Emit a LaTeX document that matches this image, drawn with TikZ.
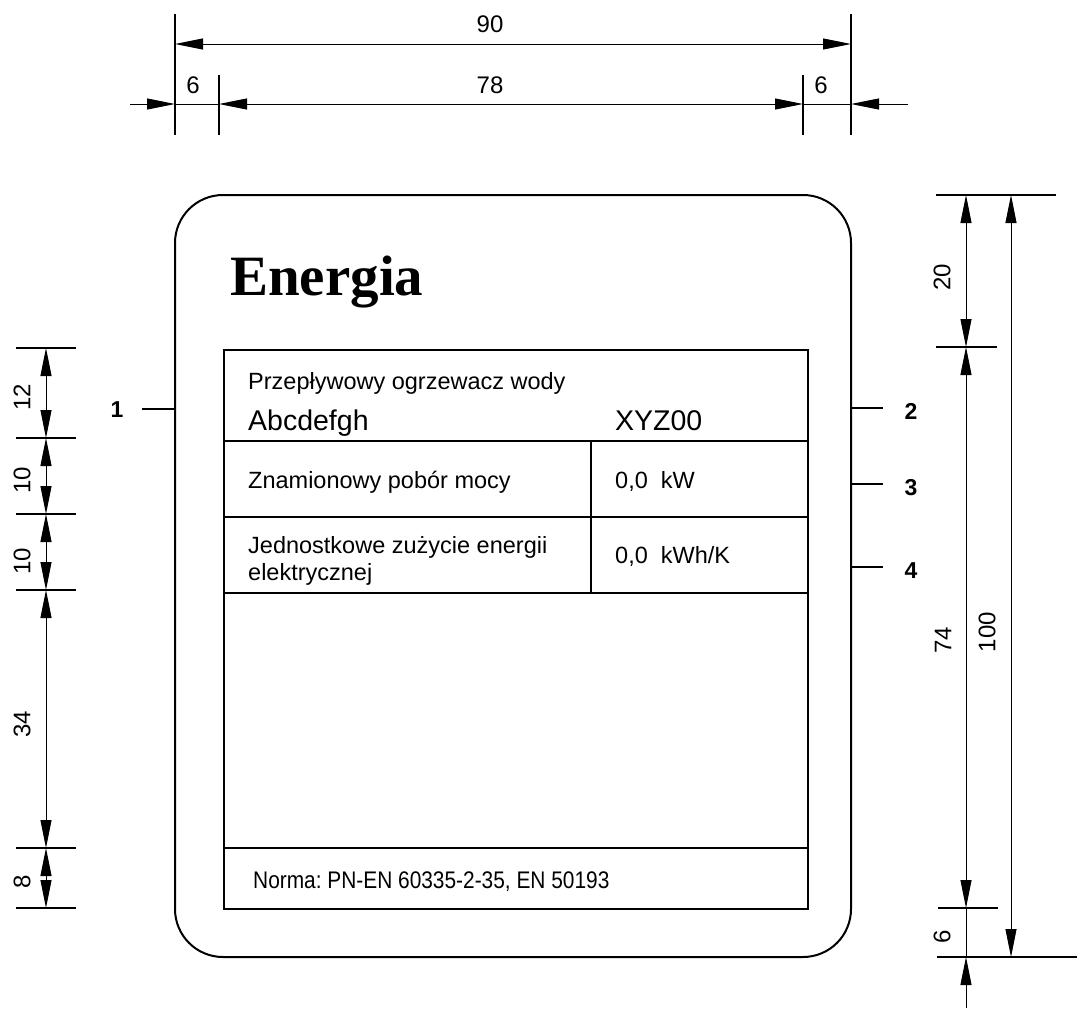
\documentclass[tikz,border=0pt]{standalone}
\usepackage{fontspec}
\setmainfont{Liberation Sans}
\newfontfamily\serifb{Liberation Serif}
\usetikzlibrary{arrows.meta}
\begin{document}
\frenchspacing
\begin{tikzpicture}[x=1pt,y=-1pt,
  dim/.style={line width=1pt},
  ext/.style={line width=1.1pt},
  tab/.style={line width=1.4pt},
  lead/.style={line width=2pt},
  tip/.tip={Triangle[length=28pt,width=11pt]},
  dimtxt/.style={font=\fontsize{24}{26}\selectfont, inner sep=0pt},
  rdimtxt/.style={dimtxt, rotate=90},
  num/.style={font=\bfseries\fontsize{23}{24}\selectfont, inner sep=0pt},
  cell/.style={anchor=base west, inner sep=0pt, font=\fontsize{23.5}{22}\selectfont},
  big/.style={anchor=base west, inner sep=0pt, font=\fontsize{28.5}{30}\selectfont}
]
\useasboundingbox (0,0) rectangle (1077,1010);

% plate
\node[draw, line width=2pt, rounded corners=48pt, minimum width=676pt, minimum height=762pt, inner sep=0pt] (plate) at (513,576) {};

\node[anchor=base west, inner sep=0pt, font=\serifb\bfseries\fontsize{57}{60}\selectfont] (title) at (230,295) {Energia};

% table
\coordinate (tTL) at (224,350);
\coordinate (tBR) at (808,909);
\draw[tab] (tTL) rectangle (tBR);
\coordinate (r1l) at (224,441); \coordinate (r1r) at (808,441);
\coordinate (r2l) at (224,517); \coordinate (r2r) at (808,517);
\coordinate (r3l) at (224,593); \coordinate (r3r) at (808,593);
\coordinate (r4l) at (224,848); \coordinate (r4r) at (808,848);
\coordinate (cTop) at (591,441); \coordinate (cBot) at (591,593);
\draw[tab] (r1l) -- (r1r);
\draw[tab] (r2l) -- (r2r);
\draw[tab] (r3l) -- (r3r);
\draw[tab] (r4l) -- (r4r);
\draw[tab] (cTop) -- (cBot);

\node[cell] (t1) at (248,389) {Przepływowy ogrzewacz wody};
\node[big] (t2) at (248,430) {Abcdefgh};
\node[big] (t3) at (615,430) {XYZ00};
\node[cell] (t4) at (248,488) {Znamionowy pobór mocy};
\node[cell] (t5) at (615,488) {0,0\ \ kW};
\node[cell] (t6) at (248,553) {Jednostkowe zużycie energii};
\node[cell] (t7) at (248,580) {elektrycznej};
\node[cell] (t8) at (615,563) {0,0\ \ kWh/K};
\node[cell, font=\fontsize{24}{26}\selectfont, xscale=0.87] (t9) at (253,888) {Norma: PN-EN 60335-2-35, EN 50193};

% leaders
\node[num] (n1) at (117,410) {1};
\node[num] (n2) at (911,411) {2};
\node[num] (n3) at (911,488) {3};
\node[num] (n4) at (911,571) {4};
\coordinate (l1a) at (142,409); \coordinate (l1b) at (175,409);
\coordinate (l2a) at (851,408); \coordinate (l2b) at (883,408);
\coordinate (l3a) at (851,484); \coordinate (l3b) at (883,484);
\coordinate (l4a) at (851,567); \coordinate (l4b) at (883,567);
\draw[lead] (l1a) -- (l1b);
\draw[lead] (l2a) -- (l2b);
\draw[lead] (l3a) -- (l3b);
\draw[lead] (l4a) -- (l4b);

% top dimensions
\coordinate (e1a) at (175,14);  \coordinate (e1b) at (175,135);
\coordinate (e2a) at (851,14);  \coordinate (e2b) at (851,135);
\coordinate (e3a) at (219,75);  \coordinate (e3b) at (219,135);
\coordinate (e4a) at (803,75);  \coordinate (e4b) at (803,135);
\draw[ext] (e1a) -- (e1b);
\draw[ext] (e2a) -- (e2b);
\draw[ext] (e3a) -- (e3b);
\draw[ext] (e4a) -- (e4b);
\coordinate (d90a) at (175,44); \coordinate (d90b) at (851,44);
\draw[dim, tip-tip] (d90a) -- (d90b);
\coordinate (d78a) at (219,104); \coordinate (d78b) at (803,104);
\draw[dim, tip-tip] (d78a) -- (d78b);
\coordinate (d6La) at (130,104); \coordinate (d6Lb) at (175,104);
\draw[dim, -tip] (d6La) -- (d6Lb);
\draw[dim] (d6Lb) -- (d78a);
\coordinate (d6Ra) at (908,104); \coordinate (d6Rb) at (851,104);
\draw[dim, -tip] (d6Ra) -- (d6Rb);
\draw[dim] (d78b) -- (d6Rb);
\node[dimtxt] (x90) at (490,24) {90};
\node[dimtxt] (x6a) at (193,85) {6};
\node[dimtxt] (x78) at (490,85) {78};
\node[dimtxt] (x6b) at (821,85) {6};

% left dimensions
\foreach \y/\n in {348/a,438/b,514/c,590/d,848/e,908/f}{
  \coordinate (L\n1) at (16,\y); \coordinate (L\n2) at (76,\y);
  \coordinate (L\n) at (46,\y);
  \draw[ext] (L\n1) -- (L\n2);
}
\draw[dim, tip-tip] (La) -- (Lb);
\draw[dim, tip-tip] (Lb) -- (Lc);
\draw[dim, tip-tip] (Lc) -- (Ld);
\draw[dim, tip-tip] (Ld) -- (Le);
\draw[dim, tip-tip] (Le) -- (Lf);
\node[rdimtxt] (y12) at (22,397) {12};
\node[rdimtxt] (y10a) at (22,480) {10};
\node[rdimtxt] (y10b) at (22,561) {10};
\node[rdimtxt] (y34) at (22,724) {34};
\node[rdimtxt] (y8) at (22,882) {8};

% right dimensions
\coordinate (R1a) at (936,195); \coordinate (R1b) at (1056,195);
\coordinate (R2a) at (936,347); \coordinate (R2b) at (997,347);
\coordinate (R3a) at (938,908); \coordinate (R3b) at (998,908);
\coordinate (R4a) at (937,957); \coordinate (R4b) at (1077,957);
\draw[ext] (R1a) -- (R1b);
\draw[ext] (R2a) -- (R2b);
\draw[ext] (R3a) -- (R3b);
\draw[ext] (R4a) -- (R4b);
\coordinate (Ra) at (966,195); \coordinate (Rb) at (966,347);
\coordinate (Rc) at (966,908); \coordinate (Rd) at (966,957);
\coordinate (Re) at (966,1008);
\draw[dim, tip-tip] (Ra) -- (Rb);
\draw[dim, tip-tip] (Rb) -- (Rc);
\draw[dim] (Rc) -- (Rd);
\draw[dim, -tip] (Re) -- (Rd);
\coordinate (Sa) at (1011,195); \coordinate (Sb) at (1011,957);
\draw[dim, tip-tip] (Sa) -- (Sb);
\node[rdimtxt] (z20) at (942,277) {20};
\node[rdimtxt] (z74) at (943,640) {74};
\node[rdimtxt] (z100) at (987,632) {100};
\node[rdimtxt] (z6) at (942,937) {6};
\end{tikzpicture}
\end{document}
